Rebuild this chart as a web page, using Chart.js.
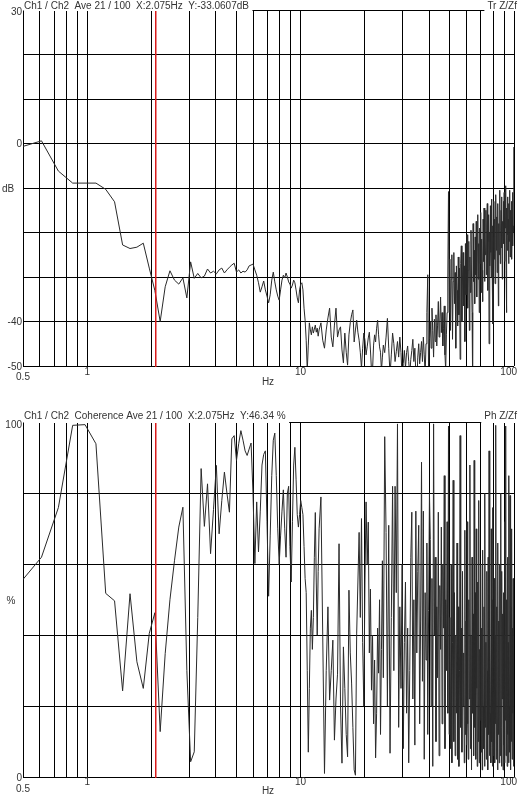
<!DOCTYPE html>
<html><head><meta charset="utf-8">
<script src="https://cdn.jsdelivr.net/npm/chart.js@4.4.1/dist/chart.umd.min.js"></script>
<style>
html,body{margin:0;padding:0;background:#fff;}
#wrap{position:relative;width:519px;height:799px;overflow:hidden;background:#fff;}
canvas{position:absolute;left:0;}
#c1{top:0;} #c2{top:400px;}
</style></head><body>
<div id="wrap"><canvas id="c1" width="519" height="400"></canvas><canvas id="c2" width="519" height="399"></canvas></div>
<script>
// ---- data ----
const binWidthHz = 0.1220703125;   // FFT line spacing
const cursorHz = 2.075;
const freqBins = [
4,5,6,7,8,9,10,11,12,13,14,15,16,17,18,19,20,21,22,23,24,25,26,27,28,29,30,31,32,33,34,35,36,37,38,39,40,41,42,43,44,45,46,47,48,49,50,51,52,53,54,55,56,57,58,59,60,61,62,63,64,65,66,67,68,69,70,71,72,73,74,75,76,77,78,79,80,81,82,83,84,85,86,87,88,89,90,91,92,93,94,95,96,97,98,99,100,
102,104,106,108,110,112,114,116,118,120,122,124,126,128,130,132,134,136,138,140,142,144,146,148,150,152,154,156,158,160,162,164,166,168,170,172,174,176,178,180,182,184,186,188,190,192,194,196,198,200,
203,206,209,212,215,218,221,224,227,230,233,236,239,242,245,248,251,254,257,260,263,266,269,272,275,278,281,284,287,290,293,296,299,302,305,308,311,314,317,320,323,326,329,332,335,338,341,344,347,350,353,356,359,362,365,368,371,374,377,380,383,386,389,392,395,398,401,
404,407,410,413,416,419,422,425,428,431,434,437,440,443,446,449,452,455,458,461,464,467,470,473,476,479,482,485,488,491,494,497,500,503,506,509,512,515,518,521,
524,527,530,533,536,539,542,545,548,551,554,557,560,563,566,569,572,575,578,581,584,587,590,593,596,599,602,605,608,611,614,617,620,623,626,629,632,635,638,641,
644,647,650,653,656,659,662,665,668,671,674,677,680,683,686,689,692,695,698,701,704,707,710,713,716,719,722,725,728,731,734,737,740,743,746,749,752,755,758,761,
764,767,770,773,776,779,782,785,788,791,794,797,800,803,806,809,812,815,818,819];

const transferDb = [
-0.8,0.6,-6.2,-8.9,-8.9,-8.9,-10.3,-13.1,-22.8,-23.6,
-23.3,-22.4,-28.0,-33.06,-40.0,-32.2,-28.6,-30.7,-31.6,-30.2,
-34.7,-26.6,-30.3,-29.2,-30.2,-29.8,-28.2,-29.1,-28.7,-29.3,
-28.4,-28.0,-29.1,-28.4,-27.8,-27.3,-26.9,-28.9,-28.4,-29.1,
-28.7,-28.9,-28.4,-27.5,-27.3,-27.1,-28.4,-29.6,-31.3,-33.4,
-32.2,-30.9,-32.9,-34.3,-35.8,-34.0,-30.7,-28.9,-31.1,-32.9,
-34.3,-35.2,-32.9,-30.7,-29.6,-30.2,-29.1,-30.0,-31.1,-31.6,
-32.5,-31.8,-30.7,-31.3,-32.9,-34.7,-35.8,-32.9,-31.6,-31.3,
-32.9,-37.0,-39.7,-44.2,-51.0,-45.3,-40.3,-41.9,-43.0,-41.2,
-42.6,-41.7,-40.8,-42.4,-41.5,-43.3,-41.9,
-40.3,-44.2,-46.0,-41.9,-39.2,-37.0,-43.5,-45.7,-40.8,-37.0,
-43.5,-41.9,-41.2,-46.4,-49.3,-42.6,-46.9,-49.8,-43.0,-40.3,
-38.5,-37.4,-44.6,-41.9,-39.7,-42.4,-44.2,-46.9,-50.5,-46.0,
-42.6,-44.2,-47.5,-45.7,-43.7,-42.4,-46.4,-51.0,-51.0,-45.3,
-43.0,-44.6,-41.5,-39.7,-43.0,-45.7,-46.9,-51.0,-48.0,-45.3,
-47.0,-43.5,-39.3,-46.0,-52.0,-47.5,-42.6,-45.0,-49.0,-46.8,
-44.5,-48.0,-43.5,-47.0,-53.0,-49.5,-46.5,-50.5,-47.0,-45.5,
-49.0,-52.0,-48.5,-46.5,-44.0,-49.0,-46.0,-51.5,-54.0,-48.0,
-45.0,-49.5,-47.0,-44.5,-49.0,-43.5,-47.5,-52.0,-45.0,-38.0,
-29.5,-52.0,-44.0,-40.0,-46.0,-37.0,-42.0,-48.0,-39.5,-44.5,
-38.5,-45.5,-41.0,-35.5,-43.5,-40.0,-34.5,-42.5,-38.0,-45.5,
-41.5,-36.5,-47.5,-51.0,-43.0,-38.0,-30.0,
-10.8,-38.0,-26.0,-42.0,-30.5,-25.0,-44.0,-31.0,-24.5,-36.0,
-29.0,-46.0,-27.5,-33.0,-41.0,-25.5,-38.5,-28.0,-48.5,-27.0,
-23.0,-40.0,-30.0,-24.5,-36.5,-27.5,-44.5,-22.5,-34.0,-26.0,
-20.5,-37.0,-28.5,-22.0,-42.0,-25.5,-33.5,-19.5,-30.0,-38.0,
-52.0,-18.0,-31.0,-24.0,-36.0,-21.0,-29.5,-17.5,-34.5,-23.0,
-16.0,-30.5,-22.5,-38.0,-19.0,-27.0,-15.5,-33.5,-21.5,-28.5,
-35.5,-17.0,-26.5,-14.5,-31.0,-20.5,-25.0,-15.0,-29.5,-19.5,
-13.5,-33.0,-22.0,-16.0,-45.0,-20.0,-27.5,-14.0,-24.5,-30.0,
-12.5,-28.0,-18.5,-40.5,-21.0,-13.0,-26.0,-17.0,-31.5,-19.0,
-11.5,-24.0,-16.5,-29.0,-20.0,-13.5,-36.5,-18.0,-25.0,-14.5,
-10.5,-27.0,-19.5,-15.0,-23.5,-12.0,-30.5,-17.5,-21.0,-13.0,
-22.5,-11.0,-26.5,-16.0,-19.0,-9.5,-28.5,-38.0,-14.5,-24.0,
-12.0,-20.5,-17.0,-27.0,-13.5,-22.0,-10.5,-25.5,-18.0,-15.0,
-21.5,-13.0,-26.0,-16.5,-11.0,-23.0,-18.5,-14.0,-20.0,-0.8];

const coherencePct = [
55,62,76,99.2,99.4,94,51.8,49.7,24.3,51.7,
32.5,25,40.5,46.34,12.8,34.8,50,61,70.5,76.1,
30,4.3,7.1,45,87,70.7,82.7,63,75.5,87.9,
68.6,78,86,80,74.7,95.4,96.3,89.3,94,97.7,
95,92,90.7,92.5,94.2,80,60.2,77.6,63.5,75,
88,91,92,72,51,68,85,95,97,85,
70,60,68,75,81,70,62,80,82,65,
55,72,88,93,84,74,70.5,74,78,76,
74,65,56,52,30,7,25,42,47,36,
45,62,74.6,55,40,58,70,
79,40,1,30,48,21.7,30,38.6,10.4,22,
29,65.8,20,3.9,36.7,25,12,5.7,52.7,35,
26.5,14,2,0.5,40.6,55,69,45,72.9,38,
20,55,77.6,60,71.9,35,53,24.5,40,15,
33,5.4,18,42,29.3,50,12,36,61,28,
96,69,20,71,6.7,45,82,30,82,52,
99.6,14,48,25,60,8,38,55,18,42,
4,30,62,74.7,22,50,9,75,35,58,
71,15,44,88.8,27,75,5,52,33,66,
12,47,80,67,20,56,3,99.6,40,62,
10,48,28,74.7,6,54,36,70.5,15,60,
42,85,8,50,30,72,18,
99,12,45,8,60,4,38,83.7,10,52,
6,40,18,66,5,48,3,30,96.3,14,
42,7,58,20,35,4,69.6,12,44,9,
72,15,5,50,22,88,8,40,2,62,
18,46,6,89.3,14,52,5,70,25,3,
55,10,78,4,36,16,60,7,42,2,
64,20,8,48,3,80,14,38,5,58,
30,2,62,12,92,6,45,18,4,70,
10,50,3,76,24,6,56,4,40,15,
99.2,5,48,20,2,66,12,44,4,60,
28,6,80,14,3,58,22,46,2,52,
9,40,4,72,16,99,6,50,26,3,
62,12,38,4,85,20,7,79.4,30,2,
48,10,70,5,42,18,56,3,36,40];

const xGridHz = [0.5,0.6,0.7,0.8,0.9,1,2,3,4,5,6,7,8,9,10,20,30,40,50,60,70,80,90,100];
const xLabelHz = [0.5,1,10,100];
const xLabelText = ['0.5','1','10','100'];
const dbLabelValues = [30,0,-40,-50];
const pctLabelValues = [100,0];

const topTitle = 'Ch1 / Ch2  Ave 21 / 100  X:2.075Hz  Y:-33.0607dB';
const topTag = 'Tr Z/Zf';
const botTitle = 'Ch1 / Ch2  Coherence Ave 21 / 100  X:2.075Hz  Y:46.34 %';
const botTag = 'Ph Z/Zf';

// ---- drawing ----
const FONT = '10px "Liberation Sans", Arial, sans-serif';
const TXT = '#333';
const CURSOR_COLOR = '#d81c1c';

function overlay(cfg){
  return {
    id:'overlay',
    afterDraw(chart){
      const ctx = chart.ctx, a = chart.chartArea, W = chart.width;
      const sx = chart.scales.x, sy = chart.scales.y;
      ctx.save();
      ctx.font = FONT;
      const tw = ctx.measureText(cfg.title).width;
      const gw = ctx.measureText(cfg.tag).width;
      ctx.fillStyle = '#fff';
      ctx.fillRect(a.left + 0.5, 0, tw + 4, Math.floor(a.top) + 1);
      ctx.fillRect(W - 2 - gw - 3, 0, gw + 5, Math.floor(a.top) + 1);
      // cursor column at the scale position of cursorHz
      const cx = Math.round(sx.getPixelForValue(cursorHz));
      ctx.fillStyle = CURSOR_COLOR;
      ctx.fillRect(cx, Math.floor(a.top) + 1, 1.5, Math.round(a.bottom - a.top));
      ctx.fillStyle = TXT;
      ctx.textBaseline = 'alphabetic';
      ctx.textAlign = 'left';
      ctx.fillText(cfg.title, a.left + 1, cfg.titleBase);
      ctx.textAlign = 'right';
      ctx.fillText(cfg.tag, W - 2, cfg.titleBase);
      ctx.textBaseline = 'middle';
      ctx.textAlign = 'right';
      cfg.yLabels.forEach(v => {
        const py = Math.max(sy.getPixelForValue(v) + 1, a.top + 2.7);
        ctx.fillText(String(v), a.left - 1, py);
      });
      ctx.textAlign = 'left';
      ctx.fillText(cfg.unit, cfg.unitX, (a.top + a.bottom) / 2 + 1);
      xLabelHz.forEach((v, i) => {
        const t = xLabelText[i];
        let px = sx.getPixelForValue(v);
        const w = ctx.measureText(t).width;
        if (px + w / 2 > W - 2) px = W - 2 - w / 2;
        const py = a.bottom + (v === 0.5 ? cfg.xlab05 : cfg.xlab);
        ctx.textAlign = 'center';
        ctx.fillText(t, px, py);
      });
      ctx.textAlign = 'center';
      ctx.fillText('Hz', (a.left + a.right) / 2 - 0.5, a.bottom + cfg.hzOff);
      ctx.restore();
    }
  };
}

function makeChart(id, values, cfg){
  const pts = freqBins.map((k, i) => ({x: k * binWidthHz, y: values[i]}));
  const gridOpts = {color:'#000', lineWidth:1, drawTicks:false};
  return new Chart(document.getElementById(id), {
    type:'line',
    data:{datasets:[{data:pts, borderColor:'#2a2a2a', borderWidth:1, pointRadius:0, tension:0, fill:false}]},
    options:{
      responsive:false, animation:false, events:[],
      layout:{padding:{top:cfg.padTop, right:5, left:0, bottom:0}},
      plugins:{legend:{display:false}, tooltip:{enabled:false}, title:{display:false}},
      scales:{
        x:{type:'logarithmic', min:0.5, max:100,
           afterBuildTicks:s => { s.ticks = xGridHz.map(v => ({value:v})); },
           afterFit:s => { s.height = cfg.xAxisH; },
           ticks:{display:false, autoSkip:false}, grid:gridOpts, border:{display:false}},
        y:{type:'linear', min:cfg.yMin, max:cfg.yMax,
           afterFit:s => { s.width = 23; },
           ticks:{display:false, stepSize:cfg.yStep, autoSkip:false}, grid:gridOpts, border:{display:false}}
      }
    },
    plugins:[overlay(cfg)]
  });
}

makeChart('c1', transferDb, {padTop:10, xAxisH:34, yMin:-50, yMax:30, yStep:10,
  title:topTitle, tag:topTag, titleBase:9.3, yLabels:dbLabelValues, unit:'dB', unitX:2,
  xlab:6.7, xlab05:11.7, hzOff:16.7});
makeChart('c2', coherencePct, {padTop:22.5, xAxisH:22, yMin:0, yMax:100, yStep:20,
  title:botTitle, tag:botTag, titleBase:19.3, yLabels:pctLabelValues, unit:'%', unitX:6.5,
  xlab:5.7, xlab05:12, hzOff:14.7});
</script></body></html>
